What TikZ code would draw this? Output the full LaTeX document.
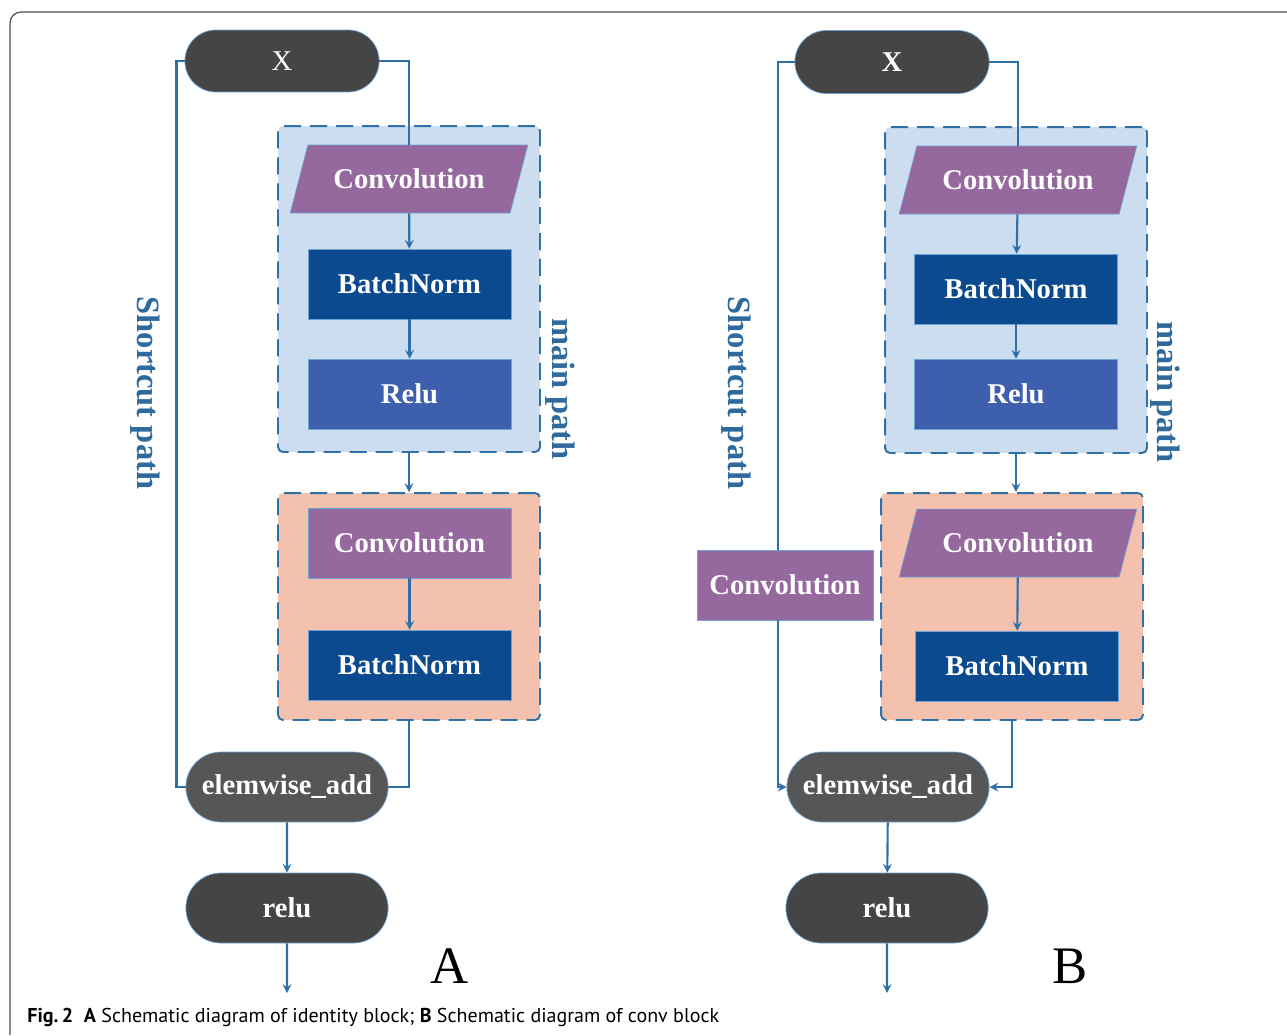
\documentclass[tikz,border=0pt]{standalone}
\usepackage{fontspec}
\setmainfont{Liberation Serif}
\newfontfamily\capfont{PT Sans}
\usepackage{tikz}
\usetikzlibrary{arrows,shapes.geometric,shapes.misc,positioning}

\definecolor{pillgray}{HTML}{454545}
\definecolor{addgray}{HTML}{565656}
\definecolor{convpurple}{HTML}{95689E}
\definecolor{bndark}{HTML}{0C4A90}
\definecolor{relublue}{HTML}{3E5FAD}
\definecolor{mainfill}{HTML}{CCDDF0}
\definecolor{secfill}{HTML}{F3C1AE}
\definecolor{linkblue}{HTML}{2F70A8}
\definecolor{edgeblue}{HTML}{6FA3D6}
\definecolor{labelblue}{HTML}{2E6A9E}
\definecolor{framegray}{HTML}{505050}

\newcommand{\nodefont}{\fontsize{16.3}{18}\selectfont\bfseries}

\begin{document}
\begin{tikzpicture}
		[x=0.02cm,y=-0.02cm,
		pill/.style={rounded rectangle,fill=pillgray,draw=edgeblue,line width=0.4pt,
			text=white,minimum width=4.28cm,minimum height=1.4cm,font=\nodefont},
		block/.style={rectangle,draw=edgeblue,line width=0.3pt,text=white,
			minimum width=4.06cm,minimum height=1.4cm,font=\nodefont},
		slant/.style={trapezium,trapezium left angle=66,trapezium right angle=114,
			trapezium stretches=true,fill=convpurple,draw=edgeblue,line width=0.3pt,
			text=white,minimum width=4.76cm,minimum height=1.36cm,font=\nodefont},
		stage/.style={rectangle,rounded corners=0.1cm,draw=linkblue,line width=1.1pt,
			dash pattern=on 0.34cm off 0.18cm,minimum width=5.24cm},
		link/.style={draw=linkblue,line width=1.2pt},
		pathlabel/.style={text=labelblue,rotate=-90,
			font=\fontsize{18.5}{20}\selectfont\bfseries},
		>=stealth]
		\useasboundingbox (0,0) rectangle (1287,1035);
		\draw[framegray,line width=0.7pt,rounded corners=0.22cm] (10,1035) |- (1287,12);

		% identity block
		\node[stage,fill=mainfill,minimum height=6.52cm] (bluea) at (409,289) {};
		\node[stage,fill=secfill,minimum height=4.54cm] (pinka) at (409,606.5) {};
		\node[pill,minimum width=4.12cm,minimum height=1.24cm,
			font=\fontsize{16.3}{18}\selectfont] (xa) at (282,61) {X};
		\node[slant] (conva1) at (409,179) {Convolution};
		\node[block,fill=bndark] (bna1) at (409.5,284) {BatchNorm};
		\node[block,fill=relublue] (rlua) at (409.5,394) {Relu};
		\node[block,fill=convpurple] (conva2) at (409.5,543) {Convolution};
		\node[block,fill=bndark] (bna2) at (409.5,665) {BatchNorm};
		\node[pill,fill=addgray] (adda) at (287,787) {elemwise\_add};
		\node[pill] (relua) at (287,908) {relu};
		\coordinate (outa) at (287,993);
		\node[pathlabel] (cuttexta) at (145,393) {Shortcut path};
		\node[pathlabel] (maintexta) at (560,389) {main path};
		\node[font=\fontsize{30}{32}\selectfont] (tagA) at (450,966) {A};

		\draw[link] (xa.east) -| (conva1.north);
		\draw[link,->] (conva1) -- (bna1);
		\draw[link,->] (bna1) -- (rlua);
		\draw[link,->] (bluea.south) -- (pinka.north);
		\draw[link,->] (conva2) -- (bna2);
		\draw[link] (pinka.south) |- (adda.east);
		\draw[link] (xa.west) -- ++(-8,0) |- (adda.west);
		\draw[link,->] (adda) -- (relua);
		\draw[link,->] (relua) -- (outa);

		% conv block
		\node[stage,fill=mainfill,minimum height=6.52cm] (blueb) at (1016,290) {};
		\node[stage,fill=secfill,minimum height=4.54cm] (pinkb) at (1012,606.5) {};
		\node[pill,minimum width=4.12cm,minimum height=1.26cm] (xb) at (892,62) {X};
		\node[slant] (convb1) at (1018,180) {Convolution};
		\node[block,fill=bndark] (bnb1) at (1016,289) {BatchNorm};
		\node[block,fill=relublue] (rlub) at (1016,394) {Relu};
		\node[slant] (convb2) at (1018,543) {Convolution};
		\node[block,fill=bndark] (bnb2) at (1017,666) {BatchNorm};
		\node[block,fill=convpurple,minimum width=3.52cm] (convs) at (785,585) {Convolution};
		\node[pill,fill=addgray] (addb) at (888,787) {elemwise\_add};
		\node[pill] (relub) at (887,908) {relu};
		\coordinate (outb) at (887,993);
		\coordinate (cutb) at (778,62);
		\node[pathlabel] (cuttextb) at (736,393) {Shortcut path};
		\node[pathlabel] (maintextb) at (1165,392) {main path};
		\node[font=\fontsize{30}{32}\selectfont] (tagB) at (1070,966) {B};

		\draw[link] (xb.east) -| (convb1.north);
		\draw[link,->] (convb1) -- (bnb1);
		\draw[link,->] (bnb1) -- (rlub);
		\draw[link,->] (blueb.south) -- (blueb.south |- pinkb.north);
		\draw[link,->] (convb2) -- (bnb2);
		\draw[link,->] (pinkb.south) |- (addb.east);
		\draw[link] (xb.west) -- (cutb) -- (cutb |- convs.north);
		\draw[link,->] (cutb |- convs.south) |- (addb.west);
		\draw[link,->] (addb) -- (relub);
		\draw[link,->] (relub) -- (outb);

		\node[anchor=base west,font=\capfont\fontsize{11.4}{13}\selectfont,inner sep=0pt]
			(caption) at (27,1022)
			{\textbf{Fig.\,2}\ \ \textbf{A} Schematic diagram of identity block; \textbf{B} Schematic diagram of conv block};
\end{tikzpicture}
\end{document}
